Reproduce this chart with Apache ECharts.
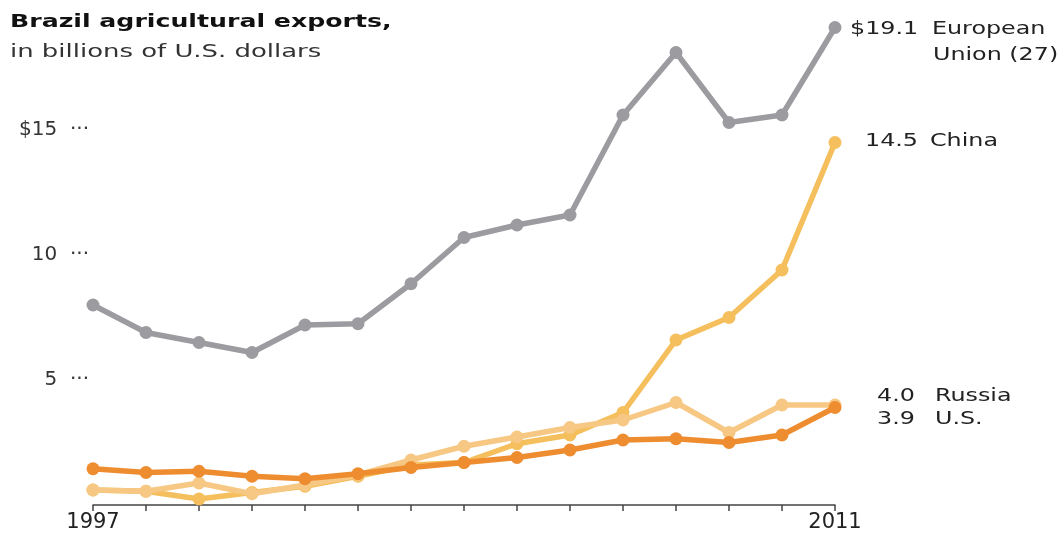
<!DOCTYPE html>
<html><head><meta charset="utf-8">
<script src="https://cdn.jsdelivr.net/npm/echarts@6/dist/echarts.min.js"></script>
<style>html,body{margin:0;padding:0;background:#fff}#c{width:1062px;height:537px}</style>
</head><body><div id="c"></div>
<script>
const years = ['1997','1998','1999','2000','2001','2002','2003','2004','2005','2006','2007','2008','2009','2010','2011'];
const euValues = [8.0, 6.9, 6.5, 6.1, 7.2, 7.25, 8.85, 10.7, 11.2, 11.6, 15.6, 18.1, 15.3, 15.6, 19.1];
const chinaValues = [0.6, 0.55, 0.24, 0.5, 0.75, 1.15, 1.6, 1.7, 2.45, 2.8, 3.7, 6.6, 7.5, 9.4, 14.5];
const russiaValues = [0.6, 0.55, 0.88, 0.45, 0.8, 1.2, 1.8, 2.35, 2.72, 3.1, 3.4, 4.1, 2.9, 4.0, 4.0];
const usValues = [1.45, 1.3, 1.35, 1.15, 1.05, 1.25, 1.5, 1.7, 1.9, 2.2, 2.6, 2.65, 2.5, 2.8, 3.9];
const yTicks = [5, 10, 15];
const shownYears = ['1997', '2011'];

const font = "'DejaVu Sans', 'Liberation Sans', sans-serif";
const chart = echarts.init(document.getElementById('c'));
function line(name, data, color, z) {
  return {
    name, type: 'line', data, z,
    lineStyle: { color, width: 5.5 },
    itemStyle: { color },
    symbol: 'circle', symbolSize: 13,
    showAllSymbol: true, animation: false
  };
}
function txt(text, left, top, opts) {
  return {
    type: 'text', left, top, scaleX: (opts && opts.sx) || 1.4,
    style: { text, font: (opts && opts.font) || ("17px " + font), fill: (opts && opts.fill) || '#222' }
  };
}
chart.setOption({
  backgroundColor: '#fff',
  animation: false,
  grid: { left: 93, right: 227, top: 5, bottom: 32 },
  xAxis: {
    type: 'category', data: years, boundaryGap: false,
    axisLine: { lineStyle: { color: '#444', width: 1.5 } },
    axisTick: { show: true, length: 6, lineStyle: { color: '#444', width: 1.5 }, interval: 0 },
    axisLabel: {
      interval: 0, margin: 7, fontFamily: font, fontSize: 21, color: '#222',
      formatter: v => shownYears.includes(v) ? v : ''
    }
  },
  yAxis: {
    type: 'value', min: 0, max: 20, interval: 5,
    splitLine: { show: false }, axisLine: { show: false }, axisTick: { show: false },
    axisLabel: {
      margin: 4, fontFamily: font, fontSize: 20, color: '#333',
      formatter: v => yTicks.includes(v) ? (v === 15 ? '$' + v : '' + v) + '  ···' : ''
    }
  },
  series: [
    line('European Union (27)', euValues, '#9c9ca0', 1),
    line('China', chinaValues, '#f4bf5c', 2),
    line('Russia', russiaValues, '#f7c784', 3),
    line('U.S.', usValues, '#ee8c30', 4)
  ],
  graphic: [
    txt('Brazil agricultural exports,', 10, 13, { font: "bold 18px " + font, fill: '#111', sx: 1.4 }),
    txt('in billions of U.S. dollars', 10, 43, { font: "18px " + font, fill: '#333', sx: 1.44 }),
    txt('$19.1', 850, 21),
    txt('European', 932, 21),
    txt('Union (27)', 933, 47),
    txt('14.5', 865, 133),
    txt('China', 930, 133),
    txt('4.0', 877, 388),
    txt('Russia', 935, 388),
    txt('3.9', 877, 411),
    txt('U.S.', 935, 411)
  ]
});
</script></body></html>
